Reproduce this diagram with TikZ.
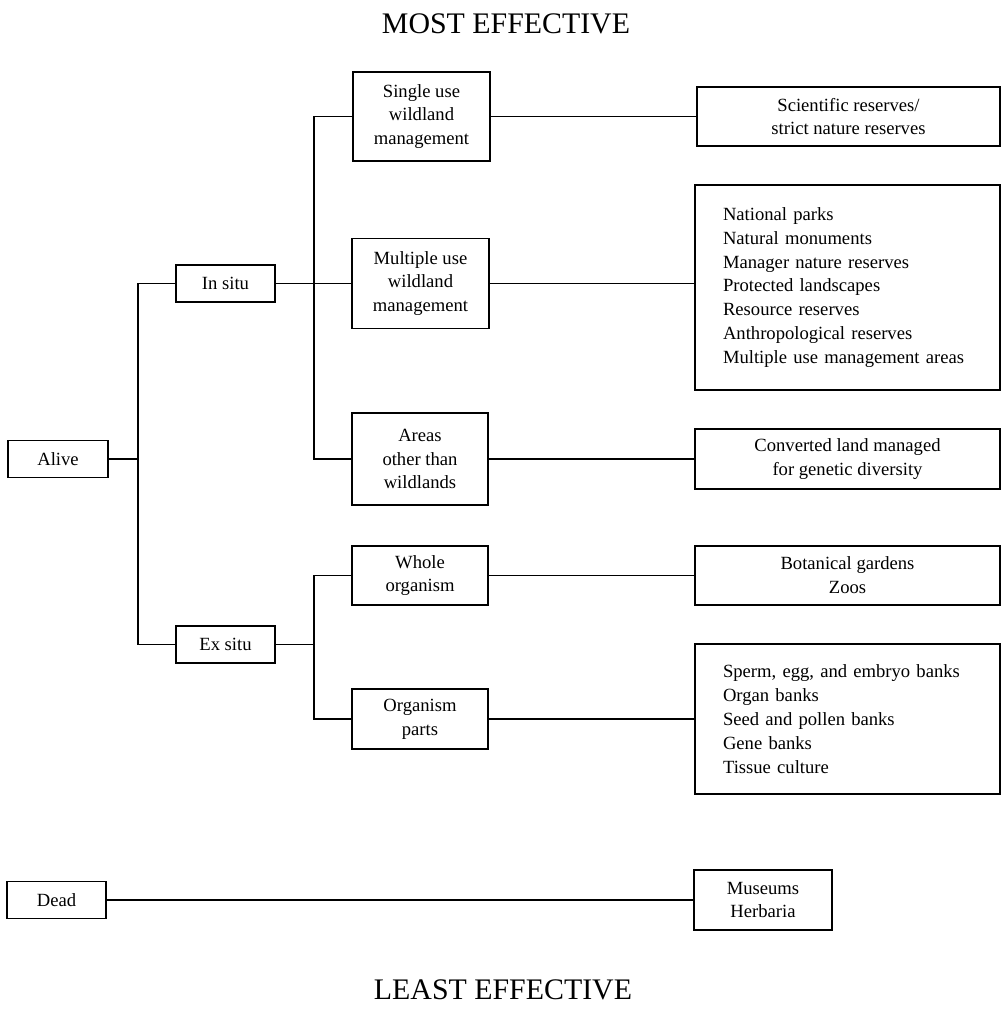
\documentclass[tikz,border=0pt]{standalone}
\usepackage{fontspec}
\setmainfont{Liberation Serif}
\usepackage{tikz}
\usetikzlibrary{positioning, calc}
\newcommand{\boxfont}{\fontsize{10.6}{13.6}\selectfont}

\begin{document}
\begin{tikzpicture}[x=0.02cm, y=-0.02cm, line width=0.7pt,
    box/.style={draw, font=\boxfont, align=center, inner sep=2pt},
    listbox/.style={box, align=left, text width=4.98cm, minimum width=6.1cm}]
    \useasboundingbox (0,0) rectangle (1001,1009);

    % Headings
    \node[font=\fontsize{17}{19}\selectfont] (most) at (506,24) {MOST EFFECTIVE};
    \node[font=\fontsize{17}{19}\selectfont] (least) at (503,990) {LEAST EFFECTIVE};

    % Level 1
    \node[box, minimum width=2cm, minimum height=0.74cm] (alive) at (58,459) {Alive};
    \node[box, minimum width=1.98cm, minimum height=0.74cm] (dead) at (56.5,900) {Dead};

    % Level 2
    \node[box, minimum width=1.98cm, minimum height=0.74cm] (insitu) at (225.5,283.5) {In situ};
    \node[box, minimum width=1.98cm, minimum height=0.74cm] (exsitu) at (225.5,644.5) {Ex situ};

    % Level 3
    \node[box, minimum width=2.74cm, minimum height=1.78cm] (single) at (421.5,116.5) {Single use\\wildland\\management};
    \node[box, minimum width=2.74cm, minimum height=1.8cm] (multiple) at (420.5,283.5) {Multiple use\\wildland\\management};
    \node[box, minimum width=2.72cm, minimum height=1.84cm] (areas) at (420,459) {Areas\\other than\\wildlands};
    \node[box, minimum width=2.72cm, minimum height=1.18cm] (whole) at (420,575.5) {Whole\\organism};
    \node[box, minimum width=2.72cm, minimum height=1.2cm] (parts) at (420,719) {Organism\\parts};

    % Level 4
    \node[box, minimum width=6.06cm, minimum height=1.18cm] (sci) at (848.5,116.5) {Scientific reserves/\\strict nature reserves};
    \node[listbox, minimum height=4.1cm] (nat) at (847.5,287.5) {National parks\\Natural monuments\\Manager nature reserves\\Protected landscapes\\Resource reserves\\Anthropological reserves\\Multiple use management areas};
    \node[box, minimum width=6.1cm, minimum height=1.2cm] (conv) at (847.5,459) {Converted land managed\\for genetic diversity};
    \node[box, minimum width=6.1cm, minimum height=1.18cm] (bot) at (847.5,575.5) {Botanical gardens\\Zoos};
    \node[listbox, minimum height=3cm] (sperm) at (847.5,719) {Sperm, egg, and embryo banks\\Organ banks\\Seed and pollen banks\\Gene banks\\Tissue culture};
    \node[box, minimum width=2.76cm, minimum height=1.2cm] (mus) at (763,900) {Museums\\Herbaria};

    % Junctions
    \coordinate (j1) at (138,459);
    \coordinate (j2) at (314,283.5);
    \coordinate (j3) at (314,644.5);

    % Tree lines
    \draw (alive.east) -- (j1);
    \draw (insitu.west) -| (j1) |- (exsitu.west);
    \draw (insitu.east) -- (j2) -- (multiple.west);
    \draw (single.west) -| (j2) |- (areas.west);
    \draw (exsitu.east) -- (j3);
    \draw (whole.west) -| (j3) |- (parts.west);

    % To examples
    \draw (single.east) -- (sci.west);
    \draw (multiple.east) -- (multiple.east -| nat.west);
    \draw (areas.east) -- (conv.west);
    \draw (whole.east) -- (bot.west);
    \draw (parts.east) -- (sperm.west);
    \draw (dead.east) -- (mus.west);
\end{tikzpicture}
\end{document}
